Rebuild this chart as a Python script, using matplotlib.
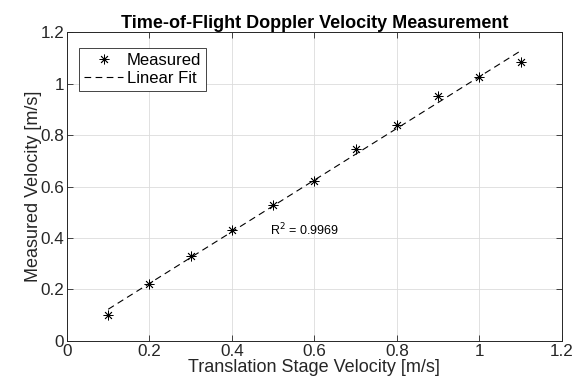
import numpy as np
import matplotlib
matplotlib.use("Agg")
import matplotlib.pyplot as plt

plt.rcParams.update({
    "font.family": ["Liberation Sans", "DejaVu Sans"],
    "font.size": 12,
    "xtick.direction": "in",
    "ytick.direction": "in",
    "xtick.top": True,
    "ytick.right": True,
})

# ── Data ─────────────────────────────────────────────────────────────────────
stage_vel = [0.1, 0.2, 0.3, 0.4, 0.5, 0.6, 0.7, 0.8, 0.9, 1.0, 1.1]
measured_vel = [0.10, 0.22, 0.33, 0.43, 0.53, 0.62, 0.745, 0.84, 0.95, 1.025, 1.085]
r2_text = "R$^2$ = 0.9969"

x = np.array(stage_vel)
y = np.array(measured_vel)
p = np.polyfit(x, y, 1)
fit = np.polyval(p, x)

# ── Figure ───────────────────────────────────────────────────────────────────
fig = plt.figure(figsize=(5.74, 3.91), dpi=100)
ax = fig.add_axes([0.1167, 0.128, 0.862, 0.790])

ax.plot(x, y, ls="none", marker=(8, 2, 0), ms=7, mew=0.6, color="black",
        label="Measured")
ax.plot(x, fit, ls=(0, (6, 4)), lw=0.8, color="black", label="Linear Fit")

ax.text(0.493, 0.43, r2_text, fontsize=9, va="center", ha="left")

ax.set_xlim(0, 1.2)
ax.set_ylim(0, 1.2)
ax.set_xticks(np.arange(0, 1.21, 0.2))
ax.set_yticks(np.arange(0, 1.21, 0.2))
ax.set_xticklabels(["0", "0.2", "0.4", "0.6", "0.8", "1", "1.2"])
ax.set_yticklabels(["0", "0.2", "0.4", "0.6", "0.8", "1", "1.2"])
ax.tick_params(length=4, width=0.6, colors="#262626", labelsize=12.3, pad=2)
ax.grid(True, color="#dcdcdc", lw=0.6)
ax.set_axisbelow(True)
for s in ax.spines.values():
    s.set_linewidth(0.7)
    s.set_color("#262626")

ax.set_title("Time-of-Flight Doppler Velocity Measurement", fontsize=13,
             fontweight="bold", pad=3)
ax.set_xlabel("Translation Stage Velocity [m/s]", fontsize=13, labelpad=0,
              color="#262626")
ax.set_ylabel("Measured Velocity [m/s]", fontsize=13, labelpad=-1,
              color="#262626")

leg = ax.legend(loc="upper left", fontsize=12, fancybox=False,
                edgecolor="#262626", framealpha=1, borderpad=0.3,
                handlelength=2.3, handletextpad=0.25, labelspacing=0.2,
                bbox_to_anchor=(0.0, 0.99), borderaxespad=0.75)
leg.get_frame().set_linewidth(0.6)

fig.savefig("out.png", dpi=100)
